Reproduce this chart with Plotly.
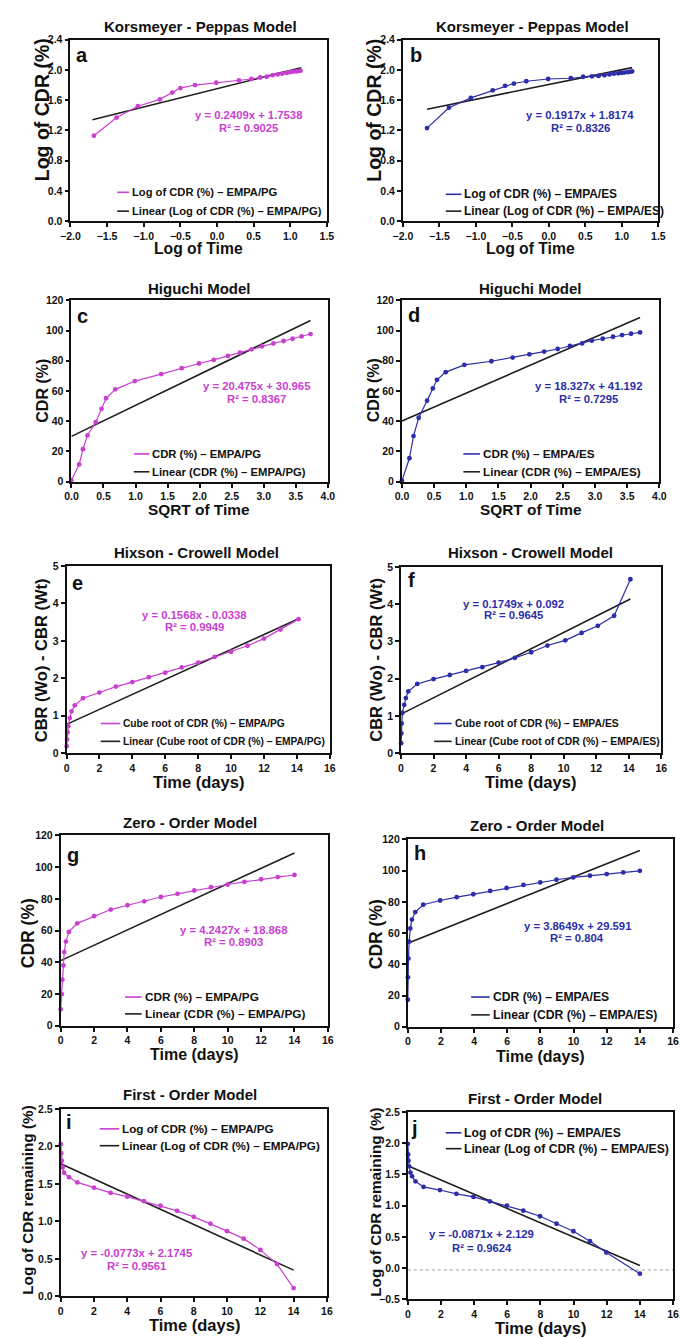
import plotly.graph_objects as go

W, H = 680, 1339
MAG = "#c93fd0"
BLU = "#2b2ea8"
BLK = "#1e1e1e"
FONT = "Liberation Sans, Arial, sans-serif"

# ---------------- data ----------------
a_x = [-1.68, -1.37, -1.08, -0.78, -0.61, -0.50, -0.30, -0.01, 0.30, 0.47, 0.59, 0.68, 0.76, 0.83, 0.89, 0.95, 0.99, 1.03, 1.08, 1.11, 1.14]
a_y = [1.13, 1.37, 1.52, 1.61, 1.70, 1.76, 1.80, 1.83, 1.86, 1.88, 1.90, 1.91, 1.93, 1.94, 1.95, 1.96, 1.97, 1.975, 1.98, 1.985, 1.99]
a_fit_x = [-1.70, 1.15]
a_fit_y = [1.34, 2.03]

b_x = [-1.67, -1.37, -1.07, -0.77, -0.60, -0.48, -0.31, -0.01, 0.30, 0.47, 0.59, 0.68, 0.76, 0.83, 0.89, 0.95, 0.99, 1.03, 1.08, 1.11, 1.14]
b_y = [1.23, 1.50, 1.63, 1.73, 1.79, 1.82, 1.85, 1.88, 1.89, 1.91, 1.915, 1.92, 1.93, 1.94, 1.95, 1.955, 1.96, 1.965, 1.97, 1.975, 1.98]
b_fit_x = [-1.67, 1.14]
b_fit_y = [1.48, 2.03]

c_x = [0, 0.12, 0.18, 0.25, 0.38, 0.47, 0.54, 0.685, 0.99, 1.40, 1.72, 1.99, 2.22, 2.44, 2.63, 2.81, 2.97, 3.15, 3.31, 3.45, 3.59, 3.73]
c_y = [1, 11.4, 21.5, 30.7, 39.4, 48.2, 55.2, 61.1, 66.6, 71.2, 75.1, 78.2, 80.6, 83.2, 85.4, 87.6, 89.6, 91.5, 93.1, 94.6, 96.1, 97.7]
c_fit_x = [0, 3.73]
c_fit_y = [30.0, 106.6]

d_x = [0, 0.116, 0.18, 0.26, 0.39, 0.48, 0.545, 0.68, 0.97, 1.39, 1.72, 1.98, 2.21, 2.42, 2.61, 2.80, 2.95, 3.12, 3.28, 3.42, 3.56, 3.70]
d_y = [0.7, 15.5, 30.2, 42.3, 53.6, 61.7, 67.4, 72.5, 77.3, 79.7, 82.1, 84.3, 86.1, 87.8, 89.8, 91.5, 93.3, 94.6, 95.9, 97.0, 97.9, 98.8]
d_fit_x = [0, 3.70]
d_fit_y = [40.1, 108.6]

e_x = [0.01, 0.03, 0.06, 0.10, 0.20, 0.30, 0.50, 1, 2, 3, 4, 5, 6, 7, 8, 9, 10, 11, 12, 13, 14.1]
e_y = [0.19, 0.37, 0.56, 0.72, 0.94, 1.12, 1.28, 1.47, 1.62, 1.78, 1.90, 2.03, 2.15, 2.29, 2.42, 2.57, 2.71, 2.87, 3.06, 3.30, 3.58]
e_fit_x = [0, 14.1]
e_fit_y = [0.77, 3.59]

f_x = [0.01, 0.02, 0.04, 0.08, 0.20, 0.30, 0.45, 1, 2, 3, 4, 5, 6, 7, 8, 9, 10.1, 11.1, 12.1, 13.1, 14.1]
f_y = [0.27, 0.53, 0.80, 1.08, 1.30, 1.48, 1.66, 1.86, 1.99, 2.10, 2.21, 2.31, 2.43, 2.56, 2.71, 2.89, 3.03, 3.23, 3.42, 3.69, 4.67]
f_fit_x = [0, 14.1]
f_fit_y = [1.05, 4.14]

g_x = [0, 0.06, 0.10, 0.16, 0.21, 0.31, 0.49, 0.99, 2, 3, 4, 5, 6, 7, 8, 9, 10, 11, 12, 13, 14]
g_y = [10.4, 19.9, 29.1, 38.0, 46.5, 53.1, 59.2, 64.6, 69.1, 73.3, 76.0, 78.5, 81.2, 83.2, 85.3, 87.4, 89.1, 90.7, 92.4, 93.8, 95.1]
g_fit_x = [0, 14]
g_fit_y = [41.1, 109.0]

h_x = [0, 0.01, 0.04, 0.08, 0.15, 0.25, 0.45, 0.93, 1.95, 2.95, 3.95, 4.97, 5.96, 6.98, 7.99, 8.97, 9.98, 10.99, 12.0, 13.0, 14.0]
h_y = [17.3, 31.7, 43.7, 54.5, 63.0, 68.7, 73.5, 78.2, 80.9, 83.0, 84.9, 87.0, 88.9, 90.9, 92.5, 94.2, 95.7, 96.8, 97.8, 98.9, 99.9]
h_fit_x = [0, 14]
h_fit_y = [53.5, 113.0]

i_x = [0.0, 0.03, 0.06, 0.12, 0.20, 0.50, 1, 2, 3, 4, 5, 6, 7, 8, 9, 10, 11, 12, 13, 14]
i_y = [2.03, 1.91, 1.81, 1.72, 1.65, 1.59, 1.52, 1.45, 1.38, 1.33, 1.27, 1.21, 1.14, 1.06, 0.97, 0.87, 0.77, 0.62, 0.43, 0.11]
i_fit_x = [0, 14]
i_fit_y = [1.77, 0.35]

j_x = [0, 0.02, 0.04, 0.08, 0.16, 0.26, 0.46, 0.95, 1.94, 2.93, 3.96, 4.95, 5.98, 6.97, 7.98, 8.97, 9.99, 10.99, 11.98, 14.0]
j_y = [1.99, 1.82, 1.72, 1.63, 1.53, 1.47, 1.39, 1.30, 1.25, 1.19, 1.14, 1.07, 1.00, 0.92, 0.83, 0.71, 0.59, 0.43, 0.25, -0.09]
j_fit_x = [0, 14]
j_fit_y = [1.64, 0.04]
j_base_x = [0, 16]
j_base_y = [-0.03, -0.03]

titles = ["Korsmeyer - Peppas Model", "Korsmeyer - Peppas Model", "Higuchi Model", "Higuchi Model",
          "Hixson - Crowell Model", "Hixson - Crowell Model", "Zero - Order Model", "Zero - Order Model",
          "First - Order Model", "First - Order Model"]
letters = ["a", "b", "c", "d", "e", "f", "g", "h", "i", "j"]
xtitles = ["Log of Time", "Log of Time", "SQRT of Time", "SQRT of Time", "Time (days)", "Time (days)",
           "Time (days)", "Time (days)", "Time (days)", "Time (days)"]
ytitles = ["Log of CDR (%)", "Log of CDR (%)", "CDR (%)", "CDR (%)", "CBR (Wo) - CBR (Wt)", "CBR (Wo) - CBR (Wt)",
           "CDR (%)", "CDR (%)", "Log of CDR remaining (%)", "Log of CDR remaining (%)"]
legend1 = ["Log of CDR (%) – EMPA/PG", "Log of CDR (%) – EMPA/ES", "CDR (%) – EMPA/PG", "CDR (%) – EMPA/ES",
           "Cube root of CDR (%) – EMPA/PG", "Cube root of CDR (%) – EMPA/ES", "CDR (%) – EMPA/PG",
           "CDR (%) – EMPA/ES", "Log of CDR (%) – EMPA/PG", "Log of CDR (%) – EMPA/ES"]
legend2 = ["Linear (" + s + ")" for s in legend1]
eq1 = ["y = 0.2409x + 1.7538", "y = 0.1917x + 1.8174", "y = 20.475x + 30.965", "y = 18.327x + 41.192",
       "y = 0.1568x - 0.0338", "y = 0.1749x + 0.092", "y = 4.2427x + 18.868", "y = 3.8649x + 29.591",
       "y = -0.0773x + 2.1745", "y = -0.0871x + 2.129"]
eq2 = ["R² = 0.9025", "R² = 0.8326", "R² = 0.8367", "R² = 0.7295", "R² = 0.9949", "R² = 0.9645",
       "R² = 0.8903", "R² = 0.804", "R² = 0.9561", "R² = 0.9624"]

series = [(a_x, a_y, a_fit_x, a_fit_y), (b_x, b_y, b_fit_x, b_fit_y), (c_x, c_y, c_fit_x, c_fit_y),
          (d_x, d_y, d_fit_x, d_fit_y), (e_x, e_y, e_fit_x, e_fit_y), (f_x, f_y, f_fit_x, f_fit_y),
          (g_x, g_y, g_fit_x, g_fit_y), (h_x, h_y, h_fit_x, h_fit_y), (i_x, i_y, i_fit_x, i_fit_y),
          (j_x, j_y, j_fit_x, j_fit_y)]

# ---------------- layout geometry (pixels) ----------------
P = [
    dict(dom=(62, 325, 34, 217), xr=[-2, 1.5], xd=0.5, xf=".1f", yr=[0, 2.4], yd=0.4, yf=".1f",
         title=(195, 21), letter=(74, 49), xt=(193, 245, 15.7), yt=(33, 105, 19.5),
         leg=(110, 122, 188, 207, 11.2), eq=(245, 110, 123)),
    dict(dom=(403, 665, 34, 217), xr=[-2, 1.5], xd=0.5, xf=".1f", yr=[0, 2.4], yd=0.4, yf=".1f",
         title=(536, 21), letter=(416, 49), xt=(534, 245, 15.7), yt=(373, 105, 19.5),
         leg=(447, 463, 190, 207, 11.9), eq=(585, 110, 123)),
    dict(dom=(63, 326, 297, 480), xr=[0, 4], xd=0.5, xf=".1f", yr=[0, 120], yd=20, yf="d",
         title=(194, 285), letter=(74, 313), xt=(194, 508, 15.4), yt=(33, 388, 16),
         leg=(127, 143, 452, 470, 11.3), eq=(253, 383, 397)),
    dict(dom=(402, 666, 297, 480), xr=[0, 4], xd=0.5, xf=".1f", yr=[0, 120], yd=20, yf="d",
         title=(534, 285), letter=(414, 312), xt=(534, 508, 15.4), yt=(373, 388, 16),
         leg=(465, 482, 452, 470, 11.7), eq=(593, 383, 397)),
    dict(dom=(58, 328, 565, 754), xr=[0, 16], xd=2, xf="d", yr=[0, 5], yd=1, yf="d",
         title=(191, 551), letter=(69, 582), xt=(193, 783, 16.5), yt=(32, 660, 16.5),
         leg=(93, 113, 724, 742, 10.2), eq=(189, 615, 627)),
    dict(dom=(401, 668, 566, 754), xr=[0, 16], xd=2, xf="d", yr=[0, 5], yd=1, yf="d",
         title=(534, 551), letter=(412, 579), xt=(534, 783, 16.5), yt=(375, 660, 16.5),
         leg=(435, 453, 724, 742, 10.4), eq=(516, 603, 615)),
    dict(dom=(52, 326, 837, 1029), xr=[0, 16], xd=2, xf="d", yr=[0, 120], yd=20, yf="d",
         title=(185, 824), letter=(65, 857), xt=(189, 1058, 16), yt=(18, 936, 17.5),
         leg=(118, 135, 1000, 1017, 11.8), eq=(229, 932, 944)),
    dict(dom=(408, 680, 841, 1030), xr=[0, 16], xd=2, xf="d", yr=[0, 120], yd=20, yf="d",
         title=(540, 827), letter=(420, 855), xt=(544, 1060, 16), yt=(375, 937, 17.5),
         leg=(473, 492, 1000, 1018, 12.2), eq=(582, 928, 940)),
    dict(dom=(52, 325, 1113, 1302), xr=[0, 16], xd=2, xf="d", yr=[0, 2.5], yd=0.5, yf=".1f",
         title=(185, 1098), letter=(61, 1126), xt=(189, 1331, 16.5), yt=(18, 1205, 15.3),
         leg=(92, 112, 1133, 1150, 11.7), eq=(130, 1258, 1271)),
    dict(dom=(408, 680, 1116, 1305), xr=[0, 16], xd=2, xf="d", yr=[-0.5, 2.5], yd=0.5, yf=".1f",
         title=(538, 1102), letter=(415, 1132), xt=(544, 1334, 16.5), yt=(375, 1207, 15.3),
         leg=(447, 463, 1137, 1153, 12.2), eq=(484, 1239, 1253)),
]


def px(x):
    return x / W


def py(y):
    return 1 - y / H


fig = go.Figure()
annotations = []
shapes = []
layout_axes = {}

for k, (p, (sx, sy, fx, fy)) in enumerate(zip(P, series)):
    n = k + 1
    col = MAG if k % 2 == 0 else BLU
    xa = "x" if n == 1 else f"x{n}"
    ya = "y" if n == 1 else f"y{n}"
    x0, x1, y0, y1 = p["dom"]
    axcommon = dict(showgrid=False, zeroline=False, showline=True, linecolor="#111", linewidth=1.8,
                    mirror=True, ticks="outside", ticklen=4, tickwidth=1.5, tickcolor="#111",
                    tickfont=dict(family=FONT, size=10.5, color="#111", weight="bold"))
    layout_axes["xaxis" if n == 1 else f"xaxis{n}"] = dict(
        axcommon, domain=[px(x0), min(px(x1), 1.0)], range=p["xr"], dtick=p["xd"], tick0=0,
        tickformat=p["xf"], anchor=ya)
    layout_axes["yaxis" if n == 1 else f"yaxis{n}"] = dict(
        axcommon, domain=[py(y1), py(y0)], range=p["yr"], dtick=p["yd"], tick0=0,
        tickformat=p["yf"], anchor=xa)

    if k == 9:
        fig.add_trace(go.Scatter(x=j_base_x, y=j_base_y, mode="lines", xaxis=xa, yaxis=ya,
                                 line=dict(color="#9a9a9a", width=1, dash="dot"), showlegend=False))
    fig.add_trace(go.Scatter(x=fx, y=fy, mode="lines", xaxis=xa, yaxis=ya,
                             line=dict(color=BLK, width=1.6), showlegend=False))
    fig.add_trace(go.Scatter(x=sx, y=sy, mode="lines+markers", xaxis=xa, yaxis=ya, cliponaxis=False,
                             line=dict(color=col, width=1.2), marker=dict(color=col, size=4.8),
                             showlegend=False))

    tx, ty = p["title"]
    annotations.append(dict(text=titles[k], x=px(tx), y=py(ty), xref="paper", yref="paper",
                            xanchor="center", yanchor="middle", showarrow=False,
                            font=dict(family=FONT, size=15, color="#111", weight="bold")))
    lx, ly = p["letter"]
    annotations.append(dict(text=letters[k], x=px(lx), y=py(ly), xref="paper", yref="paper",
                            xanchor="center", yanchor="middle", showarrow=False,
                            font=dict(family=FONT, size=20, color="#111", weight="bold")))
    xtx, xty, xs = p["xt"]
    annotations.append(dict(text=xtitles[k], x=px(xtx), y=py(xty), xref="paper", yref="paper",
                            xanchor="center", yanchor="middle", showarrow=False,
                            font=dict(family=FONT, size=xs, color="#111", weight="bold")))
    ytx, yty, ys = p["yt"]
    annotations.append(dict(text=ytitles[k], x=px(ytx), y=py(yty), xref="paper", yref="paper",
                            xanchor="center", yanchor="middle", showarrow=False, textangle=-90,
                            font=dict(family=FONT, size=ys, color="#111", weight="bold")))
    lx0, lx1, ly1, ly2, lfs = p["leg"]
    for text, yy, c in ((legend1[k], ly1, col), (legend2[k], ly2, BLK)):
        shapes.append(dict(type="line", xref="paper", yref="paper", x0=px(lx0), x1=px(lx1),
                           y0=py(yy), y1=py(yy), line=dict(color=c, width=1.6)))
        annotations.append(dict(text=text, x=px(lx1 + 1), y=py(yy), xref="paper", yref="paper",
                                xanchor="left", yanchor="middle", showarrow=False,
                                font=dict(family=FONT, size=lfs, color="#111", weight="bold")))
    ex, ey1, ey2 = p["eq"]
    for text, yy in ((eq1[k], ey1), (eq2[k], ey2)):
        annotations.append(dict(text=text, x=px(ex), y=py(yy), xref="paper", yref="paper",
                                xanchor="center", yanchor="middle", showarrow=False,
                                font=dict(family=FONT, size=11.3, color=col, weight="bold")))

fig.update_layout(width=W, height=H, margin=dict(l=0, r=0, t=0, b=0),
                  paper_bgcolor="white", plot_bgcolor="white", showlegend=False,
                  annotations=annotations, shapes=shapes, **layout_axes)

fig.write_html("out.html")
